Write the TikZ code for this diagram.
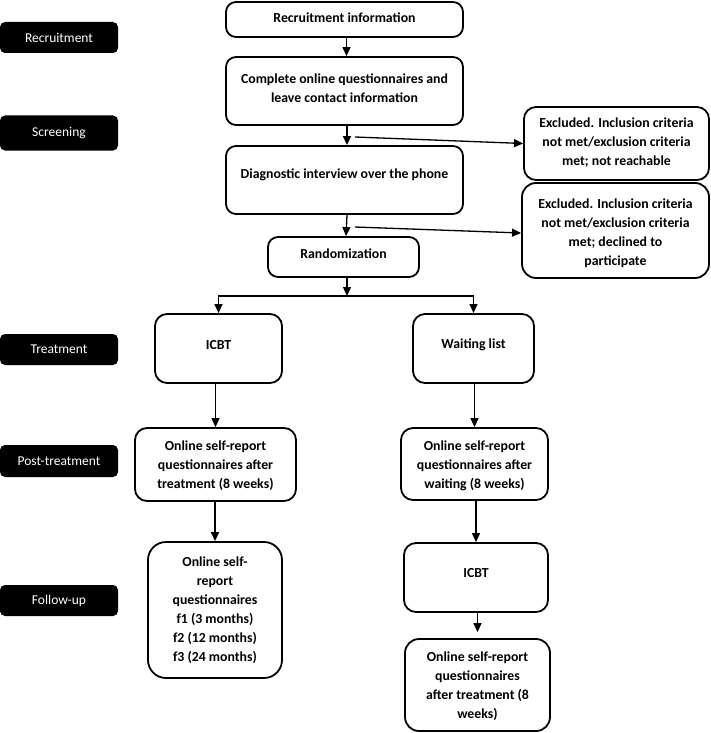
\documentclass[tikz,border=0pt]{standalone}
\usepackage{fontspec}
\setmainfont{Carlito}
\usetikzlibrary{arrows.meta}
\begin{document}
\begin{tikzpicture}[x=1pt,y=-1pt,
 box/.style={draw, line width=1.8pt, rounded corners=10pt, inner sep=0pt},
 txt/.style={font=\fontsize{13.8}{19}\selectfont\bfseries, align=center, inner sep=0pt},
 lab/.style={fill=black, rounded corners=5pt, text=white, minimum width=118pt, inner sep=0pt, font=\fontsize{13.5}{16}\selectfont},
 arr/.style={line width=1.3pt, -{Triangle[length=9pt,width=8pt]}},
 ln/.style={line width=1.3pt},
]
\useasboundingbox (0,0) rectangle (710,733);

% phase labels
\node[lab, minimum height=31pt] (l1) at (59,37.5) {Recruitment};
\node[lab, minimum height=35pt] (l2) at (59,133) {Screening};
\node[lab, minimum height=31pt] (l3) at (59,349.5) {Treatment};
\node[lab, minimum height=32pt] (l4) at (59,461) {Post-treatment};
\node[lab, minimum height=31pt] (l5) at (59,600.5) {Follow-up};

% boxes
\node[box, minimum width=237pt, minimum height=35pt] (rec) at (344.5,19.5) {};
\node[txt] (rect) at (344.5,18) {Recruitment information};
\node[box, minimum width=237pt, minimum height=68pt] (comp) at (344.5,91) {};
\node[txt] (compt) at (344.5,88) {Complete online questionnaires and\\leave contact information};
\node[box, minimum width=237pt, minimum height=68pt] (diag) at (344.5,180) {};
\node[txt] (diagt) at (344.5,175) {Diagnostic interview over the phone};
\node[box, rounded corners=12pt, minimum width=185pt, minimum height=73pt] (ex1) at (616.5,143.5) {};
\node[txt] (ex1t) at (616.5,143) {Excluded. Inclusion criteria\\not met/exclusion criteria\\met; not reachable};
\node[box, rounded corners=14pt, minimum width=187pt, minimum height=95pt] (ex2) at (615.5,230.5) {};
\node[txt] (ex2t) at (615.5,233.5) {Excluded. Inclusion criteria\\not met/exclusion criteria\\met; declined to\\participate};
\node[box, minimum width=151pt, minimum height=40pt] (rand) at (343.5,257) {};
\node[txt] (randt) at (343.5,254) {Randomization};
\node[box, rounded corners=12pt, minimum width=127pt, minimum height=69pt] (icbt) at (218.5,348.5) {};
\node[txt] (icbtt) at (218.5,345) {ICBT};
\node[box, rounded corners=12pt, minimum width=121pt, minimum height=69pt] (wait) at (473.5,348.5) {};
\node[txt] (waitt) at (473.5,345) {Waiting list};
\node[box, rounded corners=12pt, minimum width=161pt, minimum height=73pt] (on1) at (215.5,464.5) {};
\node[txt] (on1t) at (215.5,466) {Online self-report\\questionnaires after\\treatment (8 weeks)};
\node[box, rounded corners=12pt, minimum width=147pt, minimum height=72pt] (on2) at (474.5,464) {};
\node[txt] (on2t) at (474.5,466) {Online self-report\\questionnaires after\\waiting (8 weeks)};
\node[box, rounded corners=18pt, minimum width=134pt, minimum height=136pt] (fu) at (215,610) {};
\node[txt] (fut) at (215,610.5) {Online self-\\report\\questionnaires\\f1 (3 months)\\f2 (12 months)\\f3 (24 months)};
\node[box, rounded corners=12pt, minimum width=144pt, minimum height=69pt] (icbt2) at (476,577.5) {};
\node[txt] (icbt2t) at (476,573) {ICBT};
\node[box, rounded corners=14pt, minimum width=145pt, minimum height=92pt] (fin) at (477.5,685) {};
\node[txt] (fint) at (477.5,686.5) {Online self-report\\questionnaires\\after treatment (8\\weeks)};

% connectors
\coordinate (b1) at (355,137);
\coordinate (b2) at (355,227);
\coordinate (split) at (347,296);
\draw[arr] ([xshift=2pt]rec.south) -- ([xshift=2pt]comp.north);
\draw[arr] ([xshift=2.5pt]comp.south) -- ([xshift=2.5pt]diag.north);
\draw[arr] (b1) -- (ex1.west);
\draw[arr] ([xshift=2.5pt]diag.south) -- ([xshift=2.5pt]rand.north);
\draw[arr] (b2) -- ([yshift=-2.5pt]ex2.west);
\draw[arr] ([xshift=3.5pt]rand.south) -- (split);
\draw[arr] (split) -| (icbt.north);
\draw[arr] (split) -| (wait.north);
\draw[arr] (on1.north |- icbt.south) -- (on1.north);
\draw[arr] (on2.north |- wait.south) -- (on2.north);
\draw[arr] (fu.north |- on1.south) -- (fu.north);
\draw[arr] (icbt2.north |- on2.south) -- (icbt2.north);
\draw[arr, shorten >=6pt] (fin.north |- icbt2.south) -- (fin.north);
\end{tikzpicture}
\end{document}
